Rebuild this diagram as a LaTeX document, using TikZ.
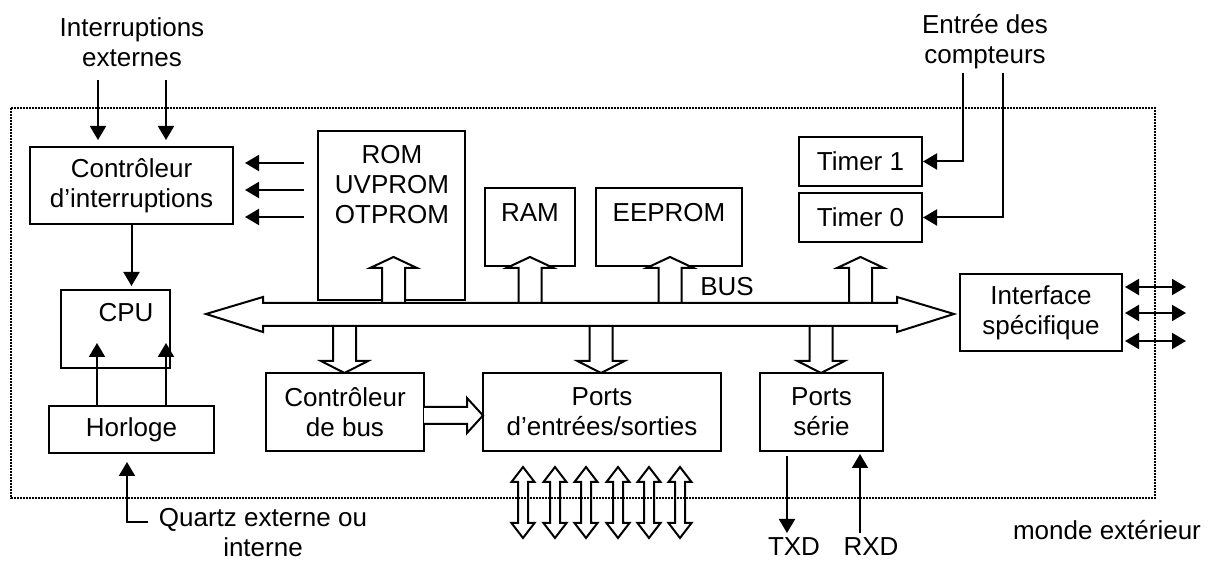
\documentclass[tikz,border=0pt]{standalone}
\usepackage{fontspec}
\setmainfont{Liberation Sans}
\usetikzlibrary{arrows.meta}
\begin{document}
\begin{tikzpicture}[x=0.5pt,y=-0.5pt,
  font=\fontsize{13pt}{15pt}\selectfont,
  box/.style={draw, line width=1pt, inner sep=0pt, align=center},
  lbl/.style={inner sep=0pt, align=center},
  arr/.style={line width=1pt, -{Triangle[width=8pt,length=7pt]}},
  darr/.style={line width=1pt, {Triangle[width=8pt,length=7pt]}-{Triangle[width=8pt,length=7pt]}},
  blk/.style={draw, line width=1pt, fill=white, line join=miter},
  blkopen/.style={draw, line width=1pt, line join=miter},
  frontier/.style={line width=0.9pt, dash pattern=on 0.8pt off 0.7pt}]
\useasboundingbox (0,0) rectangle (1212,561);

% outer dotted frontier
\draw[frontier] (11,108) rectangle (1155,498);

% boxes
\node[box, minimum width=101.5pt, minimum height=38.5pt] (ctrl) at (131.5,185.5) {Contrôleur\\d’interruptions};
\node[box, minimum width=54.5pt, minimum height=39pt] (cpu) at (115.5,329) {};
\node[lbl] (cputxt) at (126,313) {CPU};
\node[box, minimum width=82.5pt, minimum height=23.5pt] (horloge) at (131.5,429.5) {Horloge};
\node[box, minimum width=73.5pt, minimum height=84.5pt] (rom) at (391.5,215.5) {};
\node[lbl] (romtxt) at (392,184.5) {ROM\\UVPROM\\OTPROM};
\node[box, minimum width=45pt, minimum height=39pt] (ram) at (530,227) {};
\node[lbl] (ramtxt) at (530,213) {RAM};
\node[box, minimum width=73pt, minimum height=39pt] (eeprom) at (669,227) {};
\node[lbl] (eeptxt) at (669,213) {EEPROM};
\node[box, minimum width=61.5pt, minimum height=24.5pt] (timer1) at (860.5,161.5) {Timer 1};
\node[box, minimum width=61.5pt, minimum height=24.5pt] (timer0) at (860.5,217.5) {Timer 0};
\node[box, minimum width=81pt, minimum height=38.5pt] (iface) at (1041,312.5) {Interface\\spécifique};
\node[box, minimum width=79pt, minimum height=39pt] (cbus) at (345,412) {Contrôleur\\de bus};
\node[box, minimum width=119pt, minimum height=39pt] (pio) at (602,412) {Ports\\d’entrées/sorties};
\node[box, minimum width=61.5pt, minimum height=39pt] (pser) at (821.5,412) {Ports\\série};

% outside labels
\node[lbl] (intext) at (132,42) {Interruptions\\externes};
\node[lbl] (cntin) at (985,42) {Entrée des\\compteurs};
\node[lbl] (quartz) at (263,533) {Quartz externe ou\\interne};
\node[lbl] (txdl) at (794,547) {TXD};
\node[lbl] (rxdl) at (871,547) {RXD};
\node[lbl] (monde) at (1107,530) {monde extérieur};
\node[lbl] (buslbl) at (727,287) {BUS};

% block arrows up (bus -> memories, timer)
\foreach \cx in {393.5,530,670,860.5}{
  \draw[blk] (\cx-11.5,303) -- (\cx-11.5,268) -- (\cx-23.5,268) -- (\cx,257) -- (\cx+23.5,268) -- (\cx+11.5,268) -- (\cx+11.5,303);
}
% block arrows down (bus -> ports)
\foreach \cx in {344.5,601,821}{
  \draw[blk] (\cx-11.5,326) -- (\cx-11.5,361) -- (\cx-23.5,361) -- (\cx,373) -- (\cx+23.5,361) -- (\cx+11.5,361) -- (\cx+11.5,326);
}
% bus
\draw[blk] (206,314) -- (263,297) -- (263,303) -- (897,303) -- (897,297) -- (954,314) -- (897,332) -- (897,326) -- (263,326) -- (263,332) -- cycle;

% controleur de bus -> ports
\draw[blk] (424,407) -- (467,407) -- (467,398) -- (483,415.5) -- (467,433) -- (467,424) -- (424,424);

% I/O bidirectional block arrows
\foreach \cx in {523,555,586,618,649,680}{
  \draw[blkopen] (\cx,467) -- (\cx+11.5,482) -- (\cx+5,482) -- (\cx+5,523) -- (\cx+11.5,523) -- (\cx,538) -- (\cx-11.5,523) -- (\cx-5,523) -- (\cx-5,482) -- (\cx-11.5,482) -- cycle;
}

% coordinates
\coordinate (ie1) at (98,80);
\coordinate (ie2) at (166,80);
\coordinate (ly1) at (0,163);
\coordinate (ly2) at (0,190);
\coordinate (ly3) at (0,217);
\coordinate (hc1) at (97,343);
\coordinate (hc2) at (166,343);
\coordinate (qend) at (148,522);
\coordinate (qtip) at (127,462);
\coordinate (ce1) at (963,73);
\coordinate (ce2) at (1003,73);
\coordinate (tx) at (787,533);
\coordinate (rx) at (860,533);
\coordinate (ia1) at (1186,287);
\coordinate (ia2) at (1186,313);
\coordinate (ia3) at (1186,341);

% thin arrows
\draw[arr, shorten >=3pt] (ie1) -- (ie1 |- ctrl.north);
\draw[arr, shorten >=3pt] (ie2) -- (ie2 |- ctrl.north);
\foreach \i in {1,2,3}{
  \draw[arr, shorten <=6.5pt, shorten >=5.5pt] (rom.west |- ly\i) -- (ctrl.east |- ly\i);
}
\draw[arr, shorten >=1.5pt] (ctrl.south) -- (ctrl.south |- cpu.north);
\draw[arr] (horloge.north -| hc1) -- (hc1);
\draw[arr] (horloge.north -| hc2) -- (hc2);
\draw[arr] (qend) -| (qtip);
\draw[arr] (ce1) |- (timer1.east);
\draw[arr] (ce2) |- (timer0.east);
\draw[arr, shorten <=2pt] (pser.south -| tx) -- (tx);
\draw[arr, shorten >=1pt] (rx) -- (rx |- pser.south);
\foreach \i in {1,2,3}{
  \draw[darr, shorten <=1pt] (iface.east |- ia\i) -- (ia\i);
}
\end{tikzpicture}
\end{document}
